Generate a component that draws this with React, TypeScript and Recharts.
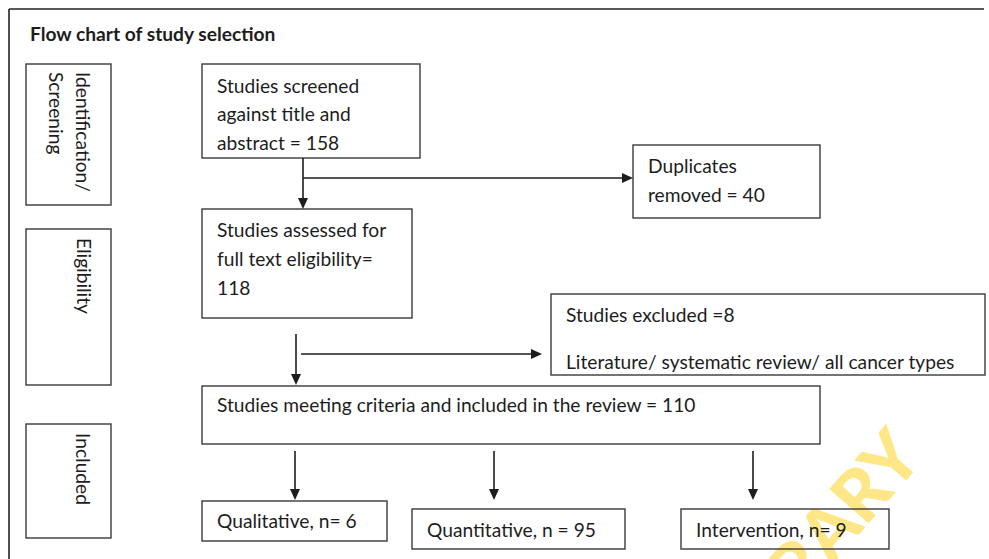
import React from 'react';
import { ComposedChart, XAxis, YAxis, ReferenceArea, ReferenceLine, ReferenceDot } from 'recharts';

const W = 989;
const H = 559;
const FONT = 'Lato, "Open Sans", sans-serif';
const FS = 19.2;
const INK = '#1d1d1d';
const EDGE = '#3a3a3a';

// ---- texts ----
const chartTitle = 'Flow chart of study selection';
const stageNames = [['Identification/', 'Screening'], ['Eligibility'], ['Included']];
const stepTexts = [
  ['Studies screened', 'against title and', 'abstract = 158'],
  ['Studies assessed for', 'full text eligibility=', '118'],
  ['Duplicates', 'removed = 40'],
  ['Studies excluded =8', 'Literature/ systematic review/ all cancer types'],
  ['Studies meeting criteria and included in the review = 110'],
  ['Qualitative, n= 6'],
  ['Quantitative, n = 95'],
  ['Intervention, n= 9'],
];
const watermarkText = 'LIBRARY';

// ---- layout (chart units = px of the figure) ----
const stageBoxes = [
  { x1: 26, x2: 111, y1: 64, y2: 205, base: 76, start: 72 },
  { x1: 26, x2: 111, y1: 229, y2: 385, base: 77, start: 238 },
  { x1: 26, x2: 111, y1: 424, y2: 538, base: 76, start: 433 },
];
const stepBoxes = [
  { x1: 202, x2: 420, y1: 64, y2: 158, baselines: [93, 121, 150] },
  { x1: 202, x2: 412, y1: 209, y2: 318, baselines: [237, 266, 295] },
  { x1: 633, x2: 820, y1: 145, y2: 218, baselines: [173, 202] },
  { x1: 551, x2: 985, y1: 294, y2: 375, baselines: [322, 369] },
  { x1: 202, x2: 820, y1: 386, y2: 444, baselines: [412] },
  { x1: 202, x2: 387, y1: 501, y2: 541, baselines: [528] },
  { x1: 412, x2: 625, y1: 509, y2: 549, baselines: [537] },
  { x1: 681, x2: 889, y1: 509, y2: 549, baselines: [537] },
];
const arrows = [
  { x1: 303, y1: 158, x2: 303, y2: 209 },
  { x1: 303, y1: 178, x2: 633, y2: 178 },
  { x1: 296, y1: 334, x2: 296, y2: 385 },
  { x1: 301, y1: 354, x2: 542, y2: 354 },
  { x1: 295, y1: 451, x2: 295, y2: 500 },
  { x1: 494, y1: 451, x2: 494, y2: 500 },
  { x1: 753, y1: 451, x2: 753, y2: 500 },
];
const frame = [
  { x1: 9, y1: 9, x2: 984, y2: 9 },
  { x1: 9, y1: 9, x2: 9, y2: 559 },
];
const watermarkAnchor = { x1: 904, x2: 905, y1: 440, y2: 441 };

const ArrowShape = (props: any) => {
  const { x1, y1, x2, y2 } = props;
  const dx = x2 - x1;
  const dy = y2 - y1;
  const len = Math.hypot(dx, dy) || 1;
  const ux = dx / len;
  const uy = dy / len;
  const hl = 11;
  const hw = 5;
  const bx = x2 - ux * hl;
  const by = y2 - uy * hl;
  return (
    <g>
      <line x1={x1} y1={y1} x2={bx} y2={by} stroke={INK} strokeWidth={1.6} />
      <polygon
        points={`${x2},${y2} ${bx - uy * hw},${by + ux * hw} ${bx + uy * hw},${by - ux * hw}`}
        fill={INK}
      />
    </g>
  );
};

const StepShape = (props: any) => {
  const { x, y, width, height, lines, baselines } = props;
  return (
    <g>
      <rect x={x} y={y} width={width} height={height} fill="none" stroke={EDGE} strokeWidth={1.4} />
      {lines.map((t: string, i: number) => (
        <text key={i} x={x + 15} y={y + (baselines[i] - props.y1)} fill={INK} fontFamily={FONT} fontSize={FS}>
          {t}
        </text>
      ))}
    </g>
  );
};

const StageShape = (props: any) => {
  const { x, y, width, height, lines, base, start, x1, y1 } = props;
  const bx = x + (base - x1);
  const by = y + (start - y1);
  return (
    <g>
      <rect x={x} y={y} width={width} height={height} fill="none" stroke={EDGE} strokeWidth={1.4} />
      {lines.map((t: string, i: number) => (
        <text
          key={i}
          x={bx - i * 27}
          y={by}
          transform={`rotate(90, ${bx - i * 27}, ${by})`}
          fill={INK}
          fontFamily={FONT}
          fontSize={FS}
        >
          {t}
        </text>
      ))}
    </g>
  );
};

// watermark drawn first so the box texts sit on top of it
const WatermarkShape = (props: any) => {
  const { x, y } = props;
  return (
    <text
      x={x}
      y={y}
      textAnchor="end"
      dominantBaseline="central"
      transform={`rotate(-49, ${x}, ${y})`}
      fill="#ffe686"
      fontFamily={FONT}
      fontWeight={900}
      fontSize={72}
    >
      {watermarkText}
    </text>
  );
};

export default function App() {
  return (
    <div style={{ position: 'absolute', left: 0, top: 0, width: W, height: H, background: '#fff' }}>
      <ComposedChart width={W} height={H} data={[{ x: 0, y: 0 }, { x: W, y: H }]} margin={{ top: 0, right: 0, bottom: 0, left: 0 }}>
        <XAxis type="number" dataKey="x" domain={[0, W]} hide />
        <YAxis type="number" dataKey="y" domain={[0, H]} reversed hide width={0} />

        <ReferenceArea
          x1={watermarkAnchor.x1}
          x2={watermarkAnchor.x2}
          y1={watermarkAnchor.y1}
          y2={watermarkAnchor.y2}
          shape={(p: any) => <WatermarkShape {...p} />}
        />

        {stageBoxes.map((b, i) => (
          <ReferenceArea
            key={`s${i}`}
            x1={b.x1}
            x2={b.x2}
            y1={b.y1}
            y2={b.y2}
            shape={(p: any) => <StageShape {...p} lines={stageNames[i]} base={b.base} start={b.start} x1={b.x1} y1={b.y1} />}
          />
        ))}

        {stepBoxes.map((b, i) => (
          <ReferenceArea
            key={`b${i}`}
            x1={b.x1}
            x2={b.x2}
            y1={b.y1}
            y2={b.y2}
            shape={(p: any) => <StepShape {...p} lines={stepTexts[i]} baselines={b.baselines} y1={b.y1} />}
          />
        ))}

        {frame.map((s, i) => (
          <ReferenceLine
            key={`f${i}`}
            segment={[{ x: s.x1, y: s.y1 }, { x: s.x2, y: s.y2 }]}
            stroke="#222"
            strokeWidth={1.6}
          />
        ))}

        {arrows.map((a, i) => (
          <ReferenceLine
            key={`a${i}`}
            segment={[{ x: a.x1, y: a.y1 }, { x: a.x2, y: a.y2 }]}
            shape={(p: any) => <ArrowShape {...p} />}
          />
        ))}

        <ReferenceDot
          x={30}
          y={41}
          r={0}
          shape={(p: any) => (
            <text x={p.cx} y={p.cy} fill={INK} fontFamily={FONT} fontWeight={700} fontSize={FS}>
              {chartTitle}
            </text>
          )}
        />
      </ComposedChart>
    </div>
  );
}
